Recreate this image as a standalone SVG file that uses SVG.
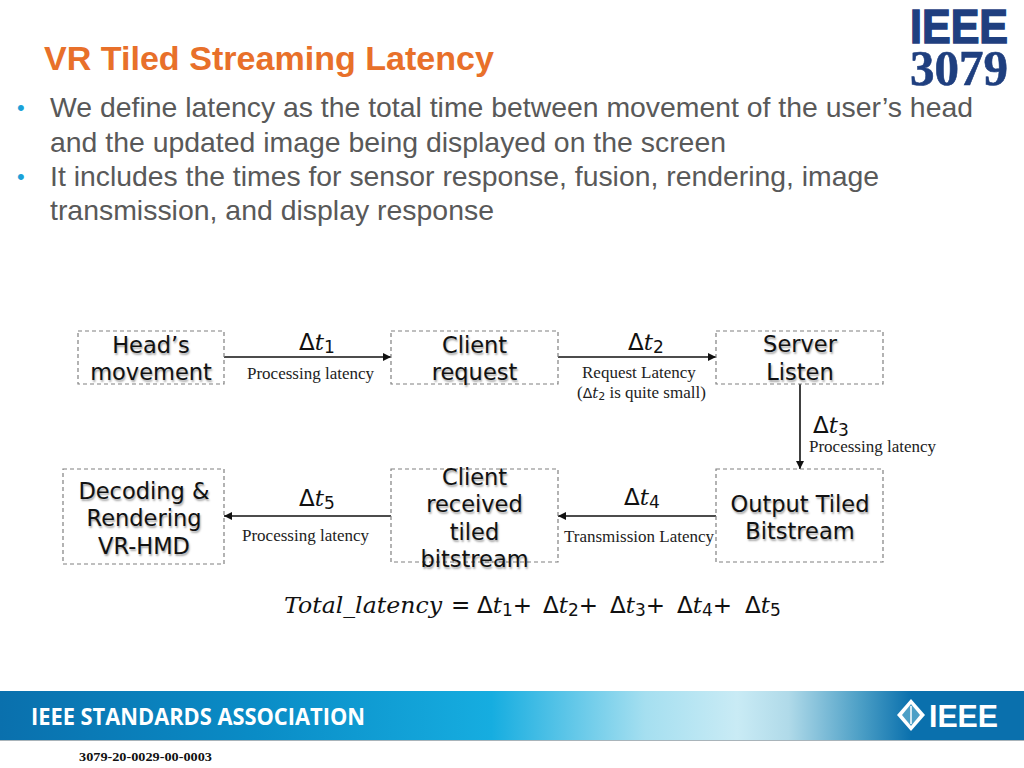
<svg xmlns="http://www.w3.org/2000/svg" width="1024" height="768" viewBox="0 0 1024 768">
<style>
.title{font:bold 33.5px "Liberation Sans",Arial,sans-serif;fill:#e8702a}
.body{font:28px "Liberation Sans",Arial,sans-serif;fill:#595959}
.bullet{font:22px "Liberation Sans",Arial,sans-serif;fill:#1ba1d8}
.box{fill:#fff;stroke:#808080;stroke-width:1.2;stroke-dasharray:4 3}
.node{font:22.5px "DejaVu Sans",Verdana,sans-serif;fill:#111;text-anchor:middle;text-shadow:1px 2px 2px rgba(0,0,0,.35)}
.cap{font:17px "Liberation Serif","Times New Roman",serif;fill:#222}
.m{font:italic 23px "DejaVu Serif","Liberation Serif",serif;fill:#111}
.m .u{font:23px "DejaVu Sans",sans-serif;font-style:normal}
.m .s{font:17px "DejaVu Sans",sans-serif;font-style:normal}
.ms{font:italic 15px "DejaVu Serif",serif;fill:#222}
.ms .u{font:14px "DejaVu Sans",sans-serif;font-style:normal}
.ms .s{font:11px "DejaVu Sans",sans-serif;font-style:normal}
.conn{stroke:#111;stroke-width:1.6;fill:none;marker-end:url(#arrow)}
</style>
<defs>
<marker id="arrow" viewBox="0 0 10 10" refX="10" refY="5" markerWidth="8" markerHeight="8" markerUnits="userSpaceOnUse" orient="auto"><path d="M0 0L10 5L0 10z" fill="#111"/></marker>
<linearGradient id="band" x1="0" x2="1" y1="0" y2="0">
<stop offset="0" stop-color="#0a70ad"/><stop offset=".25" stop-color="#0a8cc6"/><stop offset=".48" stop-color="#16ade0"/><stop offset=".63" stop-color="#a5dff0"/><stop offset=".72" stop-color="#c9ebf5"/><stop offset=".77" stop-color="#b0dae9"/><stop offset=".84" stop-color="#4c9fc6"/><stop offset=".89" stop-color="#0a70ad"/><stop offset="1" stop-color="#0a70ad"/>
</linearGradient>
</defs>
<rect width="1024" height="768" fill="#fff"/>
<text class="title" x="44" y="70" textLength="450" lengthAdjust="spacingAndGlyphs">VR Tiled Streaming Latency</text>
<g id="logo">
<text x="910" y="43" font-family="Liberation Sans,sans-serif" font-weight="bold" font-size="48" fill="#1f3f7f" stroke="#1f3f7f" stroke-width="1.5" textLength="98" lengthAdjust="spacingAndGlyphs">IEEE</text>
<text x="910" y="85" font-family="Liberation Serif,serif" font-weight="bold" font-size="50" fill="#1f3f7f" stroke="#1f3f7f" stroke-width=".6" textLength="98" lengthAdjust="spacingAndGlyphs">3079</text>
</g>
<g id="bullets">
<text class="bullet" x="17" y="115">•</text>
<text class="body" x="50" y="117" textLength="923" lengthAdjust="spacingAndGlyphs">We define latency as the total time between movement of the user’s head</text>
<text class="body" x="50" y="152" textLength="676" lengthAdjust="spacingAndGlyphs">and the updated image being displayed on the screen</text>
<text class="bullet" x="17" y="184">•</text>
<text class="body" x="50" y="186" textLength="829" lengthAdjust="spacingAndGlyphs">It includes the times for sensor response, fusion, rendering, image</text>
<text class="body" x="50" y="220" textLength="444" lengthAdjust="spacingAndGlyphs">transmission, and display response</text>
</g>
<g id="connectors">
<path class="conn" d="M224 357H391"/>
<path class="conn" d="M558 357H716"/>
<path class="conn" d="M800 384V469"/>
<path class="conn" d="M716 516H558"/>
<path class="conn" d="M391 516H224"/>
</g>
<g id="node-head"><rect class="box" x="78" y="331" width="146" height="53"/><text class="node" x="151" y="353">Head’s</text><text class="node" x="151" y="380">movement</text></g>
<g id="node-client"><rect class="box" x="391" y="331" width="167" height="53"/><text class="node" x="474.500" y="353">Client</text><text class="node" x="474.500" y="380">request</text></g>
<g id="node-server"><rect class="box" x="716" y="331" width="167" height="53"/><text class="node" x="800" y="352">Server</text><text class="node" x="800" y="380">Listen</text></g>
<g id="node-output"><rect class="box" x="716" y="469" width="167" height="93"/><text class="node" x="800" y="512">Output Tiled</text><text class="node" x="800" y="539">Bitstream</text></g>
<g id="node-received"><rect class="box" x="391" y="469" width="167" height="93"/><text class="node" x="474.500" y="485">Client</text><text class="node" x="474.500" y="512">received</text><text class="node" x="474.500" y="540">tiled</text><text class="node" x="474.500" y="567">bitstream</text></g>
<g id="node-decoding"><rect class="box" x="63" y="469" width="161" height="95"/><text class="node" x="144" y="499">Decoding &amp;</text><text class="node" x="144" y="526">Rendering</text><text class="node" x="144" y="554">VR-HMD</text></g>
<g id="labels">
<text class="m" x="299" y="350"><tspan class="u">Δ</tspan>t<tspan class="s" dy="3">1</tspan></text>
<text class="m" x="628" y="350"><tspan class="u">Δ</tspan>t<tspan class="s" dy="3">2</tspan></text>
<text class="m" x="813" y="433"><tspan class="u">Δ</tspan>t<tspan class="s" dy="3">3</tspan></text>
<text class="m" x="624" y="505"><tspan class="u">Δ</tspan>t<tspan class="s" dy="3">4</tspan></text>
<text class="m" x="299" y="506"><tspan class="u">Δ</tspan>t<tspan class="s" dy="3">5</tspan></text>
<text class="cap" x="247" y="379">Processing latency</text>
<text class="cap" x="582" y="378">Request Latency</text>
<text class="cap" x="577" y="398" xml:space="preserve">(<tspan class="ms"><tspan class="u">Δ</tspan>t<tspan class="s" dy="2">2</tspan></tspan><tspan dy="-2"> is quite small)</tspan></text>
<text class="cap" x="809" y="452">Processing latency</text>
<text class="cap" x="564" y="542">Transmission Latency</text>
<text class="cap" x="242" y="541">Processing latency</text>
</g>
<g id="formula">
<text class="m" x="284" y="613" textLength="158" lengthAdjust="spacingAndGlyphs">Total_latency</text>
<text class="m" x="451" y="613"><tspan class="u">=</tspan></text>
<text class="m" x="477" y="613"><tspan class="u">Δ</tspan>t<tspan class="s" dy="3">1</tspan><tspan class="u" dy="-3">+</tspan></text>
<text class="m" x="543" y="613"><tspan class="u">Δ</tspan>t<tspan class="s" dy="3">2</tspan><tspan class="u" dy="-3">+</tspan></text>
<text class="m" x="610" y="613"><tspan class="u">Δ</tspan>t<tspan class="s" dy="3">3</tspan><tspan class="u" dy="-3">+</tspan></text>
<text class="m" x="677" y="613"><tspan class="u">Δ</tspan>t<tspan class="s" dy="3">4</tspan><tspan class="u" dy="-3">+</tspan></text>
<text class="m" x="745" y="613"><tspan class="u">Δ</tspan>t<tspan class="s" dy="3">5</tspan></text>
</g>
<g id="footer">
<rect x="0" y="691" width="1024" height="49" fill="url(#band)"/>
<rect x="0" y="740" width="1024" height="1" fill="#a9b4ba"/>
<text x="31" y="725" font-family="Open Sans,sans-serif" font-weight="bold" font-size="24" fill="#fff" textLength="334" lengthAdjust="spacingAndGlyphs">IEEE STANDARDS ASSOCIATION</text>
<path d="M911 699L925 715L911 731L897 715z" fill="#fff"/>
<path d="M911 704L920 715L911 726L902 715z" fill="#4c9fc6"/>
<path d="M911 706V724" stroke="#fff" stroke-width="1.5"/>
<text x="929" y="727" font-family="Liberation Sans,sans-serif" font-weight="bold" font-size="32" fill="#fff" textLength="69" lengthAdjust="spacingAndGlyphs">IEEE</text>
<text x="79" y="761" font-family="Liberation Serif,serif" font-weight="bold" font-size="13" fill="#111" textLength="133" lengthAdjust="spacingAndGlyphs">3079-20-0029-00-0003</text>
</g>
</svg>
